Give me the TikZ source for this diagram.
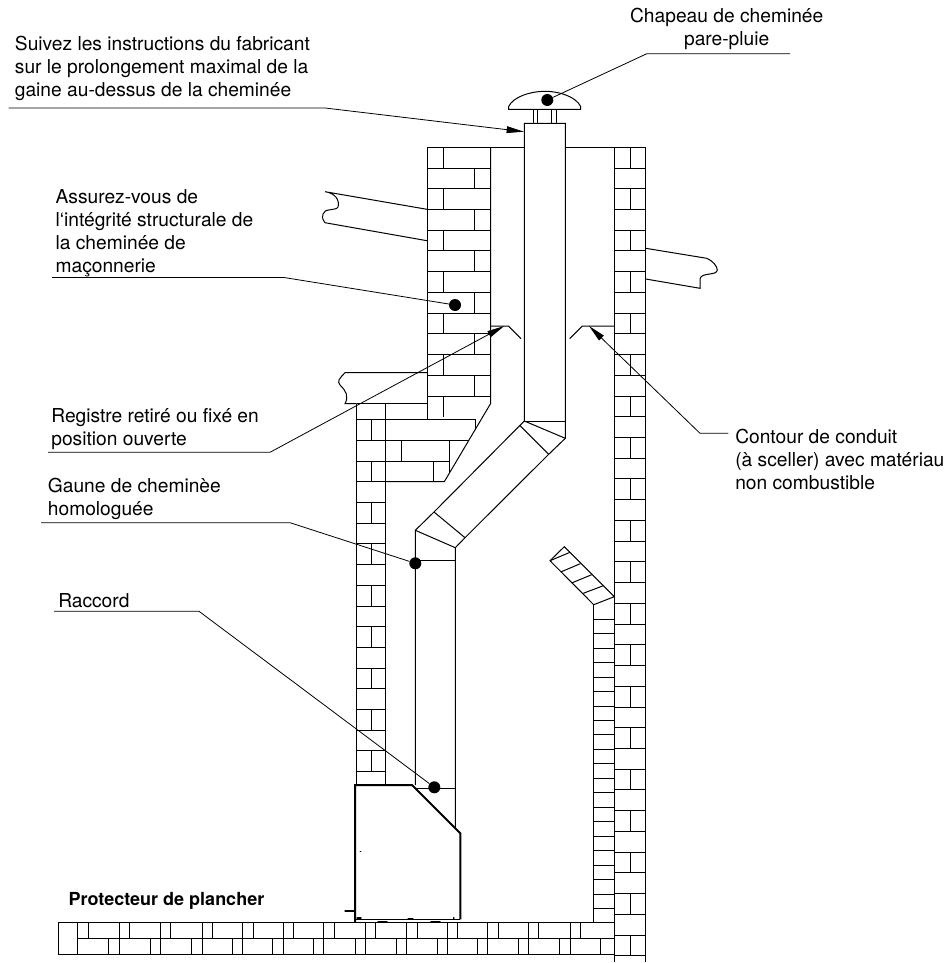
\documentclass[tikz,border=0pt]{standalone}
\usepackage{fontspec}
\setmainfont{TeX Gyre Heros}
\usetikzlibrary{arrows.meta}
\tikzset{
  ligne/.style={line width=0.75pt, line join=miter},
  repere/.style={line width=0.6pt},
  fleche/.style={repere, -{Triangle[length=13pt,width=5pt]}},
  point/.style={circle, fill=black, inner sep=0pt, minimum size=9pt},
  detail/.style={line width=1pt, line cap=round},
  etiquette/.style={anchor=south west, align=left, inner sep=0pt, font=\fontsize{14.4}{17.25}\selectfont},
}
\begin{document}
\begin{tikzpicture}[x=0.75pt, y=-0.75pt]
  \useasboundingbox (0,0) rectangle (949,963);

  % Mur droit
  \draw[ligne] (614.3,147.3) -- (614.3,961.7);
  \draw[ligne] (645,147.3) -- (645,961.7);
  \foreach \n in {0,...,39}
    \draw[ligne] (614.3,147.3+20.73*\n) -- (645,147.3+20.73*\n);
  \foreach \n in {0,2,...,38}
    \draw[ligne] (630,147.3+20.73*\n) -- (630,147.3+20.73*\n+20.73);

  % Haut de la cheminee, mur gauche
  \draw[ligne] (427,147.3) -- (524.3,147.3);
  \draw[ligne] (565.3,147.3) -- (614.3,147.3);
  \draw[ligne] (427,147.3) -- (427,419.7);
  \draw[ligne] (490.5,147.3) -- (490.5,403.7) -- (444.3,481.7) -- (385.7,481.7);
  \foreach \n in {1,...,12}
    \draw[ligne] (427,147.3+20.73*\n) -- (490.5,147.3+20.73*\n);
  \foreach \n in {0,2,...,12}
    \draw[ligne] (443,147.3+20.73*\n) -- (443,147.3+20.73*\n+20.73);
  \foreach \n in {1,3,...,11}
    \draw[ligne] (474.7,147.3+20.73*\n) -- (474.7,147.3+20.73*\n+20.73);

  % Massif sous le conduit
  \draw[ligne] (385.7,419.7) -- (475,419.7) -- (475,430);
  \draw[ligne] (385.7,440.3) -- (468.7,440.3);
  \draw[ligne] (385.7,461) -- (449.3,461);
  \draw[ligne] (401.7,440.3) -- (401.7,461);
  \draw[ligne] (449.3,440.3) -- (449.3,473);
  \draw[ligne] (433.3,461) -- (433.3,481.7);

  % Mur gauche du foyer
  \draw[ligne] (356.7,403.7) -- (427,403.7);
  \draw[ligne] (356.7,403.7) -- (356.7,785);
  \draw[ligne] (385.7,403.7) -- (385.7,785);
  \foreach \n in {0,...,17}
    \draw[ligne] (356.7,419.7+20.7*\n) -- (385.7,419.7+20.7*\n);
  \foreach \n in {0,2,...,16}
    \draw[ligne] (371.5,419.7+20.7*\n) -- (371.5,419.7+20.7*\n+20.7);

  % Solives
  \draw[ligne] (427,209.3) -- (325,191.7) .. controls (335,193) and (340,200) .. (338,207)
    .. controls (336,211) and (324,208) .. (323,214) .. controls (322,218) and (323,221) .. (325,222.7) -- (427,240.7);
  \draw[ligne] (645.7,248.3) -- (706.7,258.3) .. controls (713,261) and (717,266) .. (717.3,270)
    .. controls (717,276) and (701,272) .. (700,279) -- (700,288.3) -- (645.7,279);
  \draw[ligne] (427,372.7) -- (345,372.7) .. controls (339,379) and (337,381) .. (340,385)
    .. controls (346,391) and (349,396) .. (345,403.7) -- (356.7,403.7);

  % Gaine
  \draw[ligne] (524.3,421) -- (524.3,123.3) -- (565.3,123.3) -- (565.3,438.3) -- (548.7,454.3) -- (465,537.7) -- (455.3,547.7) -- (455.3,828);
  \draw[ligne] (524.3,421) -- (565.3,421);
  \draw[ligne] (524.3,421) -- (565.3,438.3);
  \draw[ligne] (524.3,421) -- (434,512) -- (415.3,530.3) -- (415.3,785);
  \draw[ligne] (520,425.7) -- (548.7,454.3);
  \draw[ligne] (434,512) -- (465,537.7);
  \draw[ligne] (415.3,530.3) -- (455.3,547.7);
  \draw[ligne] (415.3,560.3) -- (455.3,560.3);
  \draw[ligne] (416,788.3) -- (455.3,788.3);

  % Chapeau
  \draw[ligne] (508.7,109.3) -- (580.7,109.3) -- (580.7,106.5) .. controls (576,97) and (560,91.3) .. (545,91.3)
    .. controls (530,91.3) and (513,97) .. (508.7,106.5) -- cycle;
  \foreach \x in {533.3,537.3,551.7,556}
    \draw[ligne] (\x,109.3) -- (\x,123.3);

  % Registre
  \draw[ligne] (490.5,326) -- (508.3,326) -- (521,338.7);
  \draw[ligne] (614.3,326) -- (582.3,326) -- (569.7,338.7);

  % Deflecteur et mur mince
  \draw[ligne] (564.3,546.7) -- (614.3,596.7) -- (593.7,604.7) -- (550,560.7) -- cycle;
  \draw[ligne] (550,560.7) -- (570,552.3);
  \draw[ligne] (560.7,572) -- (580.3,563.7);
  \draw[ligne] (572.3,582.7) -- (591.7,574.7);
  \draw[ligne] (583.3,593.3) -- (603.3,585.7);
  \draw[ligne] (593.7,604.7) -- (593.7,922.7);
  \foreach \n in {0,...,20}
    \draw[ligne] (593.7,619.3+14.46*\n) -- (614.3,619.3+14.46*\n);

  % Plancher
  \draw[ligne] (58,922.7) rectangle (614.3,954);
  \draw[ligne] (77.7,938.3) -- (614.3,938.3);
  \foreach \a/\b in {77.7/88.3,119.3/129.3,160.3/170.3,202/212.3,242.7/253.3,283/293.3,323.3/334.3,365/375.3,406.7/417,447.7/457.7,487.7/498,528.7/538.7,570/580.3} {
    \draw[ligne] (\a,922.7) -- (\a,938.3);
    \draw[ligne] (\b,922.7) -- (\b,938.3);
  }
  \foreach \x in {77.7,108.7,119.3,150,160.3,191.7,202,232.7,242.7,272.7,283,313.7,323.3,355,365,396.3,406.7,437.7,447.7,477,487.7,518.3,528.7,559.3,570,600.7}
    \draw[ligne] (\x,938.3) -- (\x,954);

  % Poele
  \draw[line width=1.5pt] (355,922.7) -- (355,785) -- (412,785) -- (460.3,833.3) -- (460.3,919.3);
  \draw[ligne] (355,919.3) -- (460.3,919.3);
  \draw[detail] (345,911) -- (355,911);
  \draw[detail] (360.3,851.7) -- (360.8,851.7);
  \draw[detail] (378,921.5) -- (387,921.5);
  \draw[detail] (431,921.5) -- (440,921.5);
  \draw[detail] (408,919) -- (413,919);
  \draw[detail] (357,918) -- (361,918);
  \draw[detail] (453.5,918) -- (454,918);

  % Textes
  \node[etiquette, inner xsep=4.5pt, inner ysep=5.1pt] (suivez) at (8.7,108)
    {Suivez les instructions du fabricant\\sur le prolongement maximal de la\\gaine au-dessus de la cheminée};
  \node[etiquette, inner xsep=2.5pt, inner ysep=0.6pt] (assurez) at (52,277.5)
    {Assurez-vous de\\l‘intégrité structurale de\\la cheminée de\\maçonnerie};
  \node[etiquette, inner xsep=2.3pt, inner ysep=2.1pt] (registre) at (48,452.3)
    {Registre retiré ou fixé en\\position ouverte};
  \node[etiquette, inner xsep=5pt, inner ysep=2.1pt] (gaune) at (41,522.7)
    {Gaune de cheminèe\\homologuée};
  \node[etiquette, inner xsep=3pt, inner ysep=2.5pt] (raccord) at (54,611.3) {Raccord};
  \node[etiquette, anchor=north, align=center] (chapeau) at (726.7,7.5)
    {Chapeau de cheminée\\pare-pluie};
  \node[etiquette, anchor=north west] (contour) at (735,428.7)
    {Contour de conduit\\(à sceller) avec matériau\\non combustible};
  \node[anchor=base west, inner sep=0pt, font=\fontsize{13.5}{16}\selectfont\bfseries] (protecteur) at (68.3,905)
    {Protecteur de plancher};

  % Points et pointes
  \node[point] (ptchapeau) at (547.3,100) {};
  \node[point] (ptbrique) at (455,305) {};
  \node[point] (ptgaine) at (415.3,563.3) {};
  \node[point] (ptraccord) at (434.3,787.3) {};
  \coordinate (ptetop) at (524,131.7);
  \coordinate (pteregistre) at (504.3,326);
  \coordinate (ptecontour) at (589,326);

  % Reperes
  \draw[repere] ([shift={(63.3,4.2)}]chapeau.south) -- ([shift={(-80,4.2)}]chapeau.south) -- (ptchapeau);
  \draw[fleche] (suivez.south west) -- (325,108) -- (ptetop);
  \draw[repere] (assurez.south west) -- (284,277.5) -- (ptbrique);
  \draw[fleche] (registre.south west) -- (270,452.3) -- (pteregistre);
  \draw[repere] (gaune.south west) -- (290,522.7) -- (ptgaine);
  \draw[repere] (raccord.south west) -- (199,611.3) -- (ptraccord);
  \draw[fleche] ([shift={(-6.7,4.6)}]contour.north west) -- (700,433.3) -- (ptecontour);
\end{tikzpicture}
\end{document}
